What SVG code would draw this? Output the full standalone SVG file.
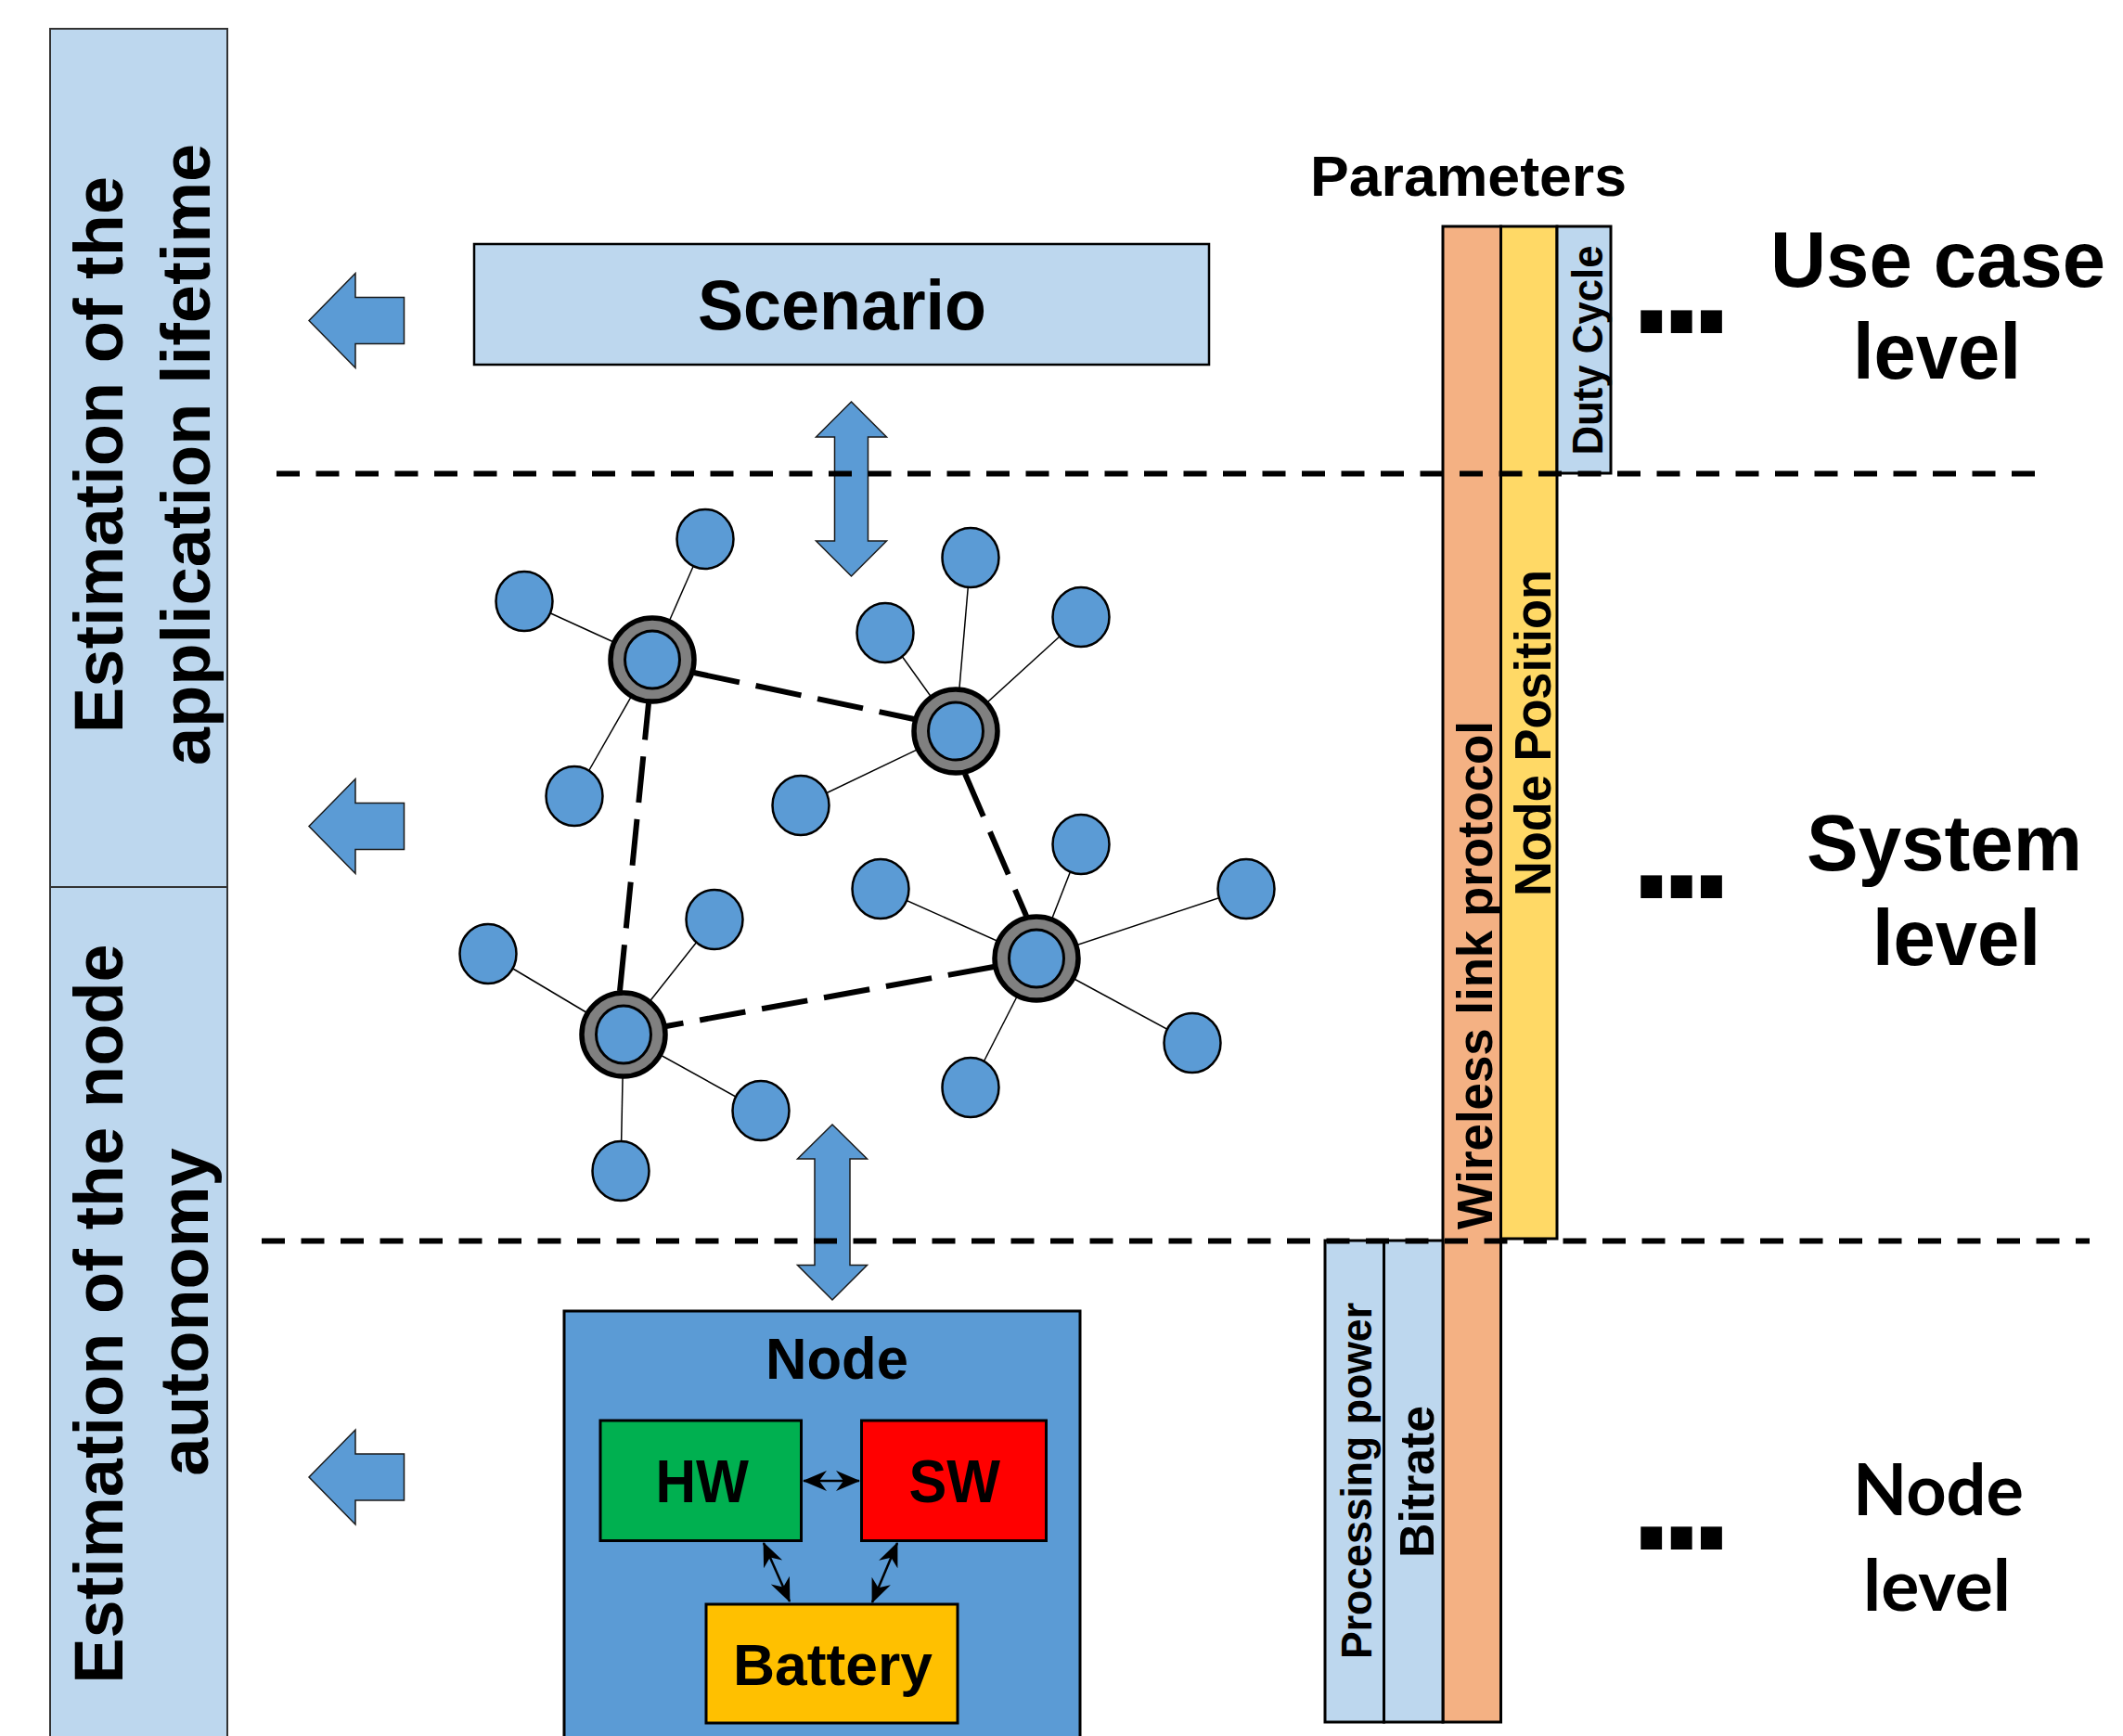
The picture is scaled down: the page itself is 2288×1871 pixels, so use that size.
<svg xmlns="http://www.w3.org/2000/svg" width="2288" height="1871" viewBox="0 0 2288 1871">
<defs>
<style>
.t{font-family:"Liberation Sans",Arial,sans-serif;font-weight:bold;fill:#000}
.c{font-family:Lato,"Liberation Sans",sans-serif;font-weight:bold;fill:#000}
.dots{font-family:"DejaVu Sans",sans-serif;font-weight:bold;font-size:130px;letter-spacing:-17px;fill:#000}
.panel{fill:#BDD7EE;stroke:#333;stroke-width:2}
.barr{stroke:#000;stroke-width:3}
.blk{fill:#5B9BD5;stroke:#1a1a1a;stroke-width:1.5}
.leaf{fill:#5B9BD5;stroke:#000;stroke-width:2.5}
.hubo{fill:#808080;stroke:#000;stroke-width:5.5}
.hubi{fill:#5B9BD5;stroke:#000;stroke-width:3}
.spoke{stroke:#000;stroke-width:1.5}
.link{stroke:#000;stroke-width:6;stroke-dasharray:50 18;fill:none}
.lvl{stroke:#000;stroke-width:6;stroke-dasharray:25 17.5;fill:none}
.box{stroke:#000;stroke-width:3}
.biarrow{stroke:#000;stroke-width:2.5;fill:none}
</style>
<marker id="ah" viewBox="0 0 26 24" refX="25" refY="12" markerWidth="26" markerHeight="24" markerUnits="userSpaceOnUse" orient="auto-start-reverse">
<path d="M0,1 L26,12 L0,23 L8,12 z" fill="#000"/>
</marker>
</defs>
<rect width="2288" height="1871" fill="#fff"/>

<g id="panel-application">
<rect class="panel" x="54" y="31" width="191" height="925"/>
<text class="t" font-size="74" text-anchor="middle" transform="translate(132,490) rotate(-90)">Estimation of the</text>
<text class="t" font-size="74" text-anchor="middle" transform="translate(226,490) rotate(-90)">application lifetime</text>
</g>
<g id="panel-node">
<rect class="panel" x="54" y="956" width="191" height="930"/>
<text class="t" font-size="74" text-anchor="middle" transform="translate(132,1416) rotate(-90)">Estimation of the node</text>
<text class="t" font-size="74" text-anchor="middle" transform="translate(224,1414) rotate(-90)">autonomy</text>
</g>

<g id="arrows-left">
<polygon class="blk" points="333,345.5 383,294.5 383,320.5 435.5,320.5 435.5,370.5 383,370.5 383,396.5"/>
<polygon class="blk" points="333,890.5 383,839.5 383,865.5 435.5,865.5 435.5,915.5 383,915.5 383,941.5"/>
<polygon class="blk" points="333,1592 383,1541 383,1567 435.5,1567 435.5,1617 383,1617 383,1643"/>
</g>

<g id="scenario">
<rect x="511" y="263" width="792" height="130" fill="#BDD7EE" stroke="#000" stroke-width="2.5"/>
<text class="t" font-size="76" x="752" y="355" textLength="311" lengthAdjust="spacingAndGlyphs">Scenario</text>
</g>

<g id="connectors">
<polygon class="blk" points="917.5,433 955.5,471 935.5,471 935.5,583 955.5,583 917.5,621 879.5,583 899.5,583 899.5,471 879.5,471"/>
<polygon class="blk" points="897,1212 934.5,1249 916,1249 916,1363.5 934.5,1363.5 897,1401 859.5,1363.5 878,1363.5 878,1249 859.5,1249"/>
<g id="spokes">
<line class="spoke" x1="703" y1="711" x2="565" y2="648"/>
<line class="spoke" x1="703" y1="711" x2="760" y2="581"/>
<line class="spoke" x1="703" y1="711" x2="619" y2="858"/>
<line class="spoke" x1="1030" y1="788" x2="1046" y2="601"/>
<line class="spoke" x1="1030" y1="788" x2="954" y2="682"/>
<line class="spoke" x1="1030" y1="788" x2="1165" y2="665"/>
<line class="spoke" x1="1030" y1="788" x2="863" y2="868"/>
<line class="spoke" x1="1117" y1="1033" x2="1165" y2="910"/>
<line class="spoke" x1="1117" y1="1033" x2="949" y2="958"/>
<line class="spoke" x1="1117" y1="1033" x2="1343" y2="958"/>
<line class="spoke" x1="1117" y1="1033" x2="1285" y2="1124"/>
<line class="spoke" x1="1117" y1="1033" x2="1046" y2="1172"/>
<line class="spoke" x1="672" y1="1115" x2="770" y2="991"/>
<line class="spoke" x1="672" y1="1115" x2="526" y2="1028"/>
<line class="spoke" x1="672" y1="1115" x2="820" y2="1197"/>
<line class="spoke" x1="672" y1="1115" x2="669" y2="1262"/>
</g>
<g id="hub-links">
<line class="link" x1="748" y1="725" x2="985" y2="775"/>
<line class="link" x1="1040" y1="834" x2="1106" y2="987"/>
<line class="link" x1="1071" y1="1042" x2="718" y2="1106"/>
<line class="link" x1="668" y1="1068" x2="699" y2="758"/>
</g>
</g>

<g id="leaves">
<ellipse class="leaf" cx="565" cy="648" rx="30.5" ry="32"/>
<ellipse class="leaf" cx="760" cy="581" rx="30.5" ry="32"/>
<ellipse class="leaf" cx="619" cy="858" rx="30.5" ry="32"/>
<ellipse class="leaf" cx="1046" cy="601" rx="30.5" ry="32"/>
<ellipse class="leaf" cx="954" cy="682" rx="30.5" ry="32"/>
<ellipse class="leaf" cx="1165" cy="665" rx="30.5" ry="32"/>
<ellipse class="leaf" cx="863" cy="868" rx="30.5" ry="32"/>
<ellipse class="leaf" cx="1165" cy="910" rx="30.5" ry="32"/>
<ellipse class="leaf" cx="949" cy="958" rx="30.5" ry="32"/>
<ellipse class="leaf" cx="1343" cy="958" rx="30.5" ry="32"/>
<ellipse class="leaf" cx="1285" cy="1124" rx="30.5" ry="32"/>
<ellipse class="leaf" cx="1046" cy="1172" rx="30.5" ry="32"/>
<ellipse class="leaf" cx="770" cy="991" rx="30.5" ry="32"/>
<ellipse class="leaf" cx="526" cy="1028" rx="30.5" ry="32"/>
<ellipse class="leaf" cx="820" cy="1197" rx="30.5" ry="32"/>
<ellipse class="leaf" cx="669" cy="1262" rx="30.5" ry="32"/>
</g>
<g id="hub1"><circle class="hubo" cx="703" cy="711" r="45"/><ellipse class="hubi" cx="703" cy="711" rx="29.5" ry="31"/></g>
<g id="hub2"><circle class="hubo" cx="1030" cy="788" r="45"/><ellipse class="hubi" cx="1030" cy="788" rx="29.5" ry="31"/></g>
<g id="hub3"><circle class="hubo" cx="1117" cy="1033" r="45"/><ellipse class="hubi" cx="1117" cy="1033" rx="29.5" ry="31"/></g>
<g id="hub4"><circle class="hubo" cx="672" cy="1115" r="45"/><ellipse class="hubi" cx="672" cy="1115" rx="29.5" ry="31"/></g>

<g id="node-box">
<rect x="608" y="1413" width="556" height="470" fill="#5B9BD5" stroke="#000" stroke-width="3"/>
<text class="t" font-size="63" x="825" y="1486" textLength="154" lengthAdjust="spacingAndGlyphs">Node</text>
</g>
<g id="hw">
<rect class="box" x="647" y="1531" width="216.5" height="129.5" fill="#00B050"/>
<text class="t" font-size="64" x="706.5" y="1619" textLength="100.5" lengthAdjust="spacingAndGlyphs">HW</text>
</g>
<g id="sw">
<rect class="box" x="928.5" y="1531" width="199" height="129.5" fill="#FF0000"/>
<text class="t" font-size="64" x="979.5" y="1619" textLength="98.6" lengthAdjust="spacingAndGlyphs">SW</text>
</g>
<g id="battery">
<rect class="box" x="761" y="1729" width="271" height="128" fill="#FFC000"/>
<text class="t" font-size="63" x="790" y="1816" textLength="215" lengthAdjust="spacingAndGlyphs">Battery</text>
</g>
<g id="node-connectors">
<line class="biarrow" x1="866" y1="1596" x2="926" y2="1596" marker-start="url(#ah)" marker-end="url(#ah)"/>
<line class="biarrow" x1="823" y1="1663" x2="851" y2="1726" marker-start="url(#ah)" marker-end="url(#ah)"/>
<line class="biarrow" x1="967" y1="1663" x2="940" y2="1727" marker-start="url(#ah)" marker-end="url(#ah)"/>
</g>

<g id="parameters">
<text class="t" font-size="61" x="1412" y="210.5" textLength="341" lengthAdjust="spacingAndGlyphs">Parameters</text>
</g>
<g id="bar-wireless">
<rect class="barr" x="1555" y="244" width="62.5" height="1612" fill="#F4B183"/>
<text class="t" font-size="54" text-anchor="middle" textLength="548" lengthAdjust="spacingAndGlyphs" transform="translate(1608,1051) rotate(-90)">Wireless link protocol</text>
</g>
<g id="bar-position">
<rect class="barr" x="1617.5" y="244" width="60.5" height="1091" fill="#FFD966"/>
<text class="t" font-size="55" text-anchor="middle" textLength="352" lengthAdjust="spacingAndGlyphs" transform="translate(1671,790) rotate(-90)">Node Position</text>
</g>
<g id="bar-duty">
<rect class="barr" x="1678" y="244" width="58" height="266" fill="#BDD7EE"/>
<text class="t" font-size="46" text-anchor="middle" textLength="226" lengthAdjust="spacingAndGlyphs" transform="translate(1727,377.5) rotate(-90)">Duty Cycle</text>
</g>
<g id="bar-processing">
<rect class="barr" x="1428" y="1337" width="63.5" height="519" fill="#BDD7EE"/>
<text class="t" font-size="46" text-anchor="middle" textLength="384" lengthAdjust="spacingAndGlyphs" transform="translate(1478,1596) rotate(-90)">Processing power</text>
</g>
<g id="bar-bitrate">
<rect class="barr" x="1491.5" y="1337" width="63.5" height="519" fill="#BDD7EE"/>
<text class="t" font-size="52" text-anchor="middle" textLength="164" lengthAdjust="spacingAndGlyphs" transform="translate(1545,1597) rotate(-90)">Bitrate</text>
</g>

<g id="level-lines">
<line class="lvl" x1="298" y1="510.5" x2="2196" y2="510.5"/>
<line class="lvl" x1="282" y1="1337.5" x2="2252" y2="1337.5"/>
</g>

<g id="level-usecase">
<text class="dots" x="1755" y="359">...</text>
<text class="t" font-size="85" x="1908" y="309" textLength="361" lengthAdjust="spacingAndGlyphs">Use case</text>
<text class="t" font-size="85" x="1997" y="408" textLength="181" lengthAdjust="spacingAndGlyphs">level</text>
</g>
<g id="level-system">
<text class="dots" x="1755" y="968">...</text>
<text class="t" font-size="85" x="1947" y="938" textLength="297" lengthAdjust="spacingAndGlyphs">System</text>
<text class="t" font-size="85" x="2018" y="1040" textLength="181" lengthAdjust="spacingAndGlyphs">level</text>
</g>
<g id="level-node">
<text class="dots" x="1755" y="1670">...</text>
<text class="c" font-size="76" x="1997" y="1633" textLength="184" lengthAdjust="spacingAndGlyphs">Node</text>
<text class="c" font-size="76" x="2008" y="1736" textLength="159" lengthAdjust="spacingAndGlyphs">level</text>
</g>
</svg>
